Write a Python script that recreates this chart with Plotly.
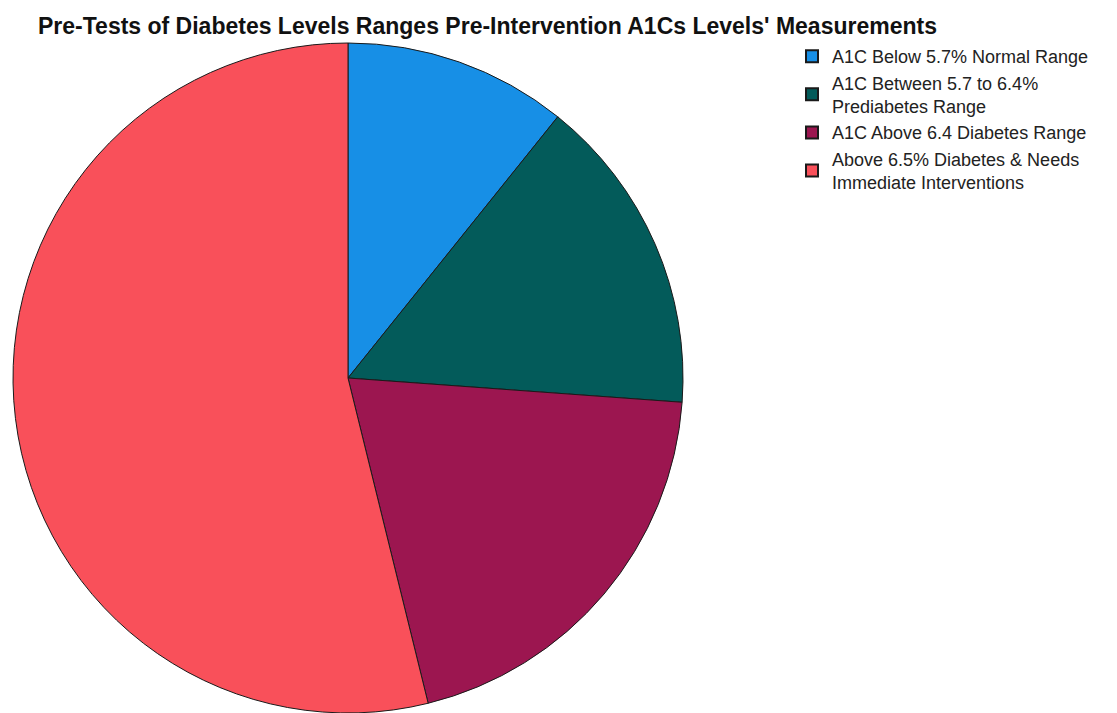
import plotly.graph_objects as go

# A1C category labels and participant counts
categories = [
    "A1C Below 5.7% Normal Range",
    "A1C Between 5.7 to 6.4%<br>Prediabetes Range",
    "A1C Above 6.4 Diabetes Range",
    "Above 6.5% Diabetes & Needs<br>Immediate Interventions",
]
counts = [7, 10, 13, 35]
slice_colors = ["#178FE6", "#035B5A", "#9C1650", "#F9505A"]

W, H = 1117, 713

fig = go.Figure(
    go.Pie(
        labels=categories,
        values=counts,
        sort=False,
        direction="clockwise",
        rotation=0,
        textinfo="none",
        hoverinfo="label+value+percent",
        marker=dict(colors=slice_colors, line=dict(color="#1a1a1a", width=1)),
        domain=dict(x=[9 / W, 687 / W], y=[0, 1 - 43 / H]),
    )
)

fig.update_layout(
    width=W,
    height=H,
    margin=dict(l=0, r=0, t=0, b=0),
    paper_bgcolor="white",
    plot_bgcolor="white",
    font=dict(family="Liberation Sans, Arial, sans-serif", color="#222222"),
    title=dict(
        text="<b>Pre-Tests of Diabetes Levels Ranges Pre-Intervention A1Cs Levels' Measurements</b>",
        x=38 / W,
        xanchor="left",
        y=1 - 26 / H,
        yanchor="middle",
        font=dict(size=23, color="#111111"),
    ),
    legend=dict(
        x=792 / W,
        xanchor="left",
        y=1 - 38 / H,
        yanchor="top",
        font=dict(size=18, color="#222222"),
        itemsizing="constant",
        tracegroupgap=0,
        bgcolor="rgba(0,0,0,0)",
    ),
    showlegend=True,
)

fig.write_html("out.html")
